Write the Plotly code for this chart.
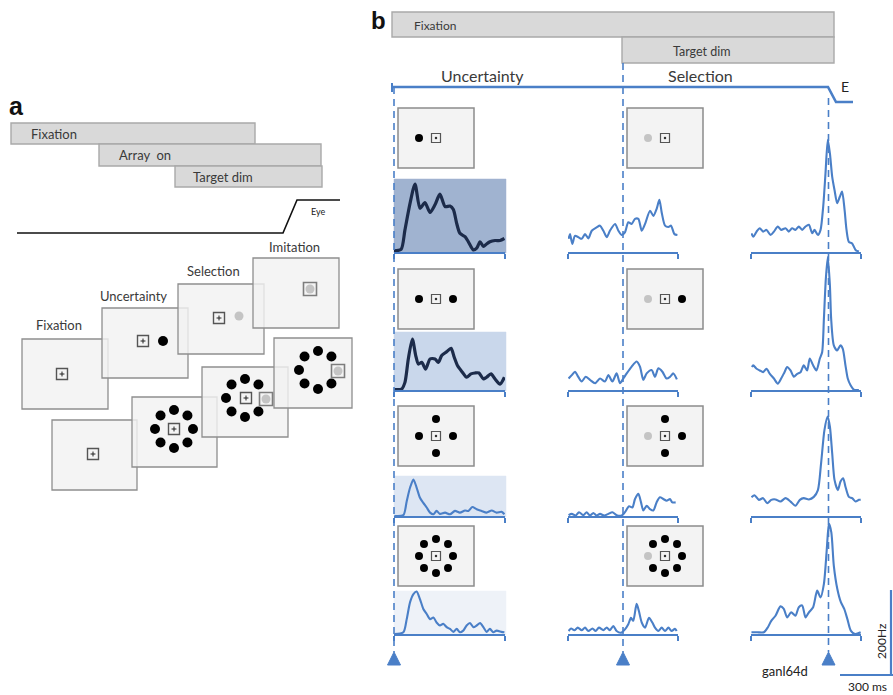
import math
import plotly.graph_objects as go

W, H = 893, 695
BLUE = "#4a7fc7"
NAVY = "#1c2b4a"
TXT = "#3a3a3a"
FONT = "Lato"

# ---------------- data: time (ms) relative to alignment event, firing rate (Hz) ----------------
# Column 1: aligned on array onset (Uncertainty)
unc1_t = [0, 40, 62, 91, 119, 147, 175, 204, 232, 260, 289, 317, 336, 355, 373, 402, 421, 449, 468, 487, 506, 524, 543, 572, 600, 625]
unc1_hz = [3, 6, 52, 115, 160, 103, 116, 93, 111, 136, 107, 108, 100, 67, 44, 36, 24, 5, 9, 24, 13, 19, 24, 27, 27, 32]
unc2_t = [2, 43, 62, 81, 104, 123, 138, 157, 179, 204, 232, 251, 270, 298, 323, 341, 360, 387, 411, 436, 458, 481, 506, 524, 549, 572, 600, 625]
unc2_hz = [1, 2, 18, 73, 120, 81, 61, 65, 49, 73, 73, 65, 81, 90, 98, 77, 57, 42, 30, 38, 40, 40, 26, 30, 38, 26, 14, 30]
unc3_t = [2, 53, 72, 91, 110, 128, 147, 166, 185, 204, 223, 241, 260, 289, 317, 345, 373, 402, 421, 443, 468, 496, 524, 553, 581, 609, 625]
unc3_hz = [0, 2, 35, 67, 86, 67, 43, 31, 20, 8, 4, 12, 5, 8, 4, 12, 8, 13, 12, 21, 16, 12, 8, 13, 8, 10, 4]
unc4_t = [2, 53, 72, 91, 110, 128, 147, 166, 185, 204, 223, 241, 260, 279, 298, 317, 336, 355, 373, 392, 411, 430, 449, 468, 487, 506, 524, 543, 562, 581, 609, 625]
unc4_hz = [0, 4, 35, 75, 94, 100, 82, 59, 47, 35, 39, 27, 20, 24, 16, 12, 5, 12, 4, 8, 20, 26, 16, 20, 26, 16, 5, 12, 4, 8, 5, 4]

# Column 2: aligned on target dim (Selection)
sel1_t = [-308, -300, -287, -272, -253, -234, -215, -196, -177, -149, -130, -111, -92, -74, -45, -26, -8, 11, 30, 49, 68, 87, 106, 125, 153, 172, 190, 206, 219, 238, 257, 272, 291, 308]
sel1_hz = [31, 42, 19, 38, 35, 31, 42, 32, 50, 58, 62, 50, 35, 50, 66, 50, 40, 46, 70, 66, 78, 78, 50, 66, 97, 85, 101, 123, 93, 62, 59, 62, 42, 40]
sel2_t = [-308, -290, -272, -253, -234, -211, -187, -158, -130, -102, -83, -60, -36, -17, 2, 21, 49, 77, 96, 115, 134, 162, 181, 200, 223, 247, 266, 285, 305]
sel2_hz = [27, 35, 43, 31, 20, 31, 24, 16, 27, 20, 35, 20, 39, 16, 27, 39, 55, 67, 55, 24, 39, 47, 31, 51, 43, 27, 31, 39, 25]
sel3_t = [-308, -290, -268, -249, -224, -206, -187, -168, -149, -130, -106, -83, -60, -36, -8, 11, 34, 53, 68, 87, 102, 115, 134, 153, 172, 190, 209, 228, 247, 266, 279, 298]
sel3_hz = [2, 5, 1, 9, 2, 9, 1, 7, 1, 5, 1, 5, 9, 2, 1, 9, 23, 20, 40, 52, 32, 13, 24, 16, 13, 32, 44, 40, 36, 40, 32, 32]
sel4_t = [-308, -294, -275, -256, -234, -215, -196, -173, -155, -136, -111, -92, -74, -55, -36, -11, 11, 30, 45, 58, 77, 90, 106, 125, 147, 166, 181, 200, 219, 238, 257, 275, 294, 304]
sel4_hz = [7, 13, 9, 15, 9, 15, 7, 13, 7, 15, 9, 15, 9, 19, 7, 3, 11, 23, 38, 31, 71, 54, 27, 15, 38, 27, 15, 7, 15, 7, 15, 7, 12, 7]

# Column 3: aligned on saccade onset (Imitation)
sac1_t = [-436, -426, -407, -389, -370, -351, -328, -309, -287, -268, -243, -225, -206, -187, -168, -149, -130, -111, -92, -79, -60, -45, -30, -17, -4, 8, 21, 34, 49, 64, 77, 91, 102, 115, 134, 153, 172]
sac1_hz = [44, 36, 48, 56, 48, 52, 40, 48, 60, 52, 56, 48, 56, 52, 60, 52, 60, 64, 44, 52, 40, 52, 107, 185, 264, 232, 177, 146, 115, 130, 142, 99, 52, 24, 20, 5, 1]
sac2_t = [-434, -426, -407, -389, -370, -351, -332, -309, -287, -268, -249, -234, -215, -196, -177, -158, -140, -121, -106, -87, -68, -49, -36, -26, -15, -4, 8, 15, 30, 49, 68, 81, 96, 109, 125, 143, 172]
sac2_hz = [54, 58, 50, 46, 42, 50, 38, 27, 15, 27, 42, 54, 46, 31, 38, 42, 58, 46, 74, 58, 46, 74, 89, 168, 262, 313, 246, 168, 105, 93, 105, 97, 58, 27, 11, 1, 0]
sac3_t = [-436, -419, -394, -370, -347, -324, -300, -272, -243, -215, -187, -162, -140, -111, -83, -60, -42, -23, -5, 8, 21, 34, 53, 68, 83, 96, 115, 134, 153, 172, 182]
sac3_hz = [44, 49, 38, 42, 30, 38, 39, 34, 42, 34, 24, 38, 42, 39, 45, 61, 124, 202, 234, 210, 147, 85, 61, 81, 89, 69, 45, 42, 34, 38, 38]
sac4_t = [-436, -404, -366, -343, -324, -300, -272, -253, -234, -211, -187, -168, -149, -130, -111, -87, -64, -45, -26, -11, -3, 3, 16, 30, 50, 70, 89, 107, 126, 150, 182]
sac4_hz = [4, 4, 4, 16, 31, 43, 65, 59, 39, 51, 43, 63, 67, 39, 51, 63, 102, 86, 118, 192, 239, 259, 239, 161, 106, 75, 59, 35, 8, 0, 4]

psth = [
    [(unc1_t, unc1_hz), (sel1_t, sel1_hz), (sac1_t, sac1_hz)],
    [(unc2_t, unc2_hz), (sel2_t, sel2_hz), (sac2_t, sac2_hz)],
    [(unc3_t, unc3_hz), (sel3_t, sel3_hz), (sac3_t, sac3_hz)],
    [(unc4_t, unc4_hz), (sel4_t, sel4_hz), (sac4_t, sac4_hz)],
]

# text
a_bar_labels = ["Fixation", "Array  on", "Target dim"]
a_screen_labels = ["Fixation", "Uncertainty", "Selection", "Imitation"]
b_bar_labels = ["Fixation", "Target dim"]
b_epoch_labels = ["Uncertainty", "Selection"]
cell_name = "ganl64d"
scale_labels = ["200Hz", "300 ms"]

# ---------------- layout geometry (pixels) ----------------
PX_PER_MS = 53 / 300.0
PX_PER_HZ = 85 / 200.0
COLS = [(394, 505, 394), (568, 678, 623), (751, 861, 828.5)]  # x0, x1, alignment x
ROW_BASE = [252, 390, 516, 634]
PANE_H = 150
SHADE = [("#a0b3d0", 179), ("#c9d7eb", 332), ("#dde6f3", 476), ("#eef2f8", 591)]


def px(x):
    return x / W


def py(y):
    return 1 - y / H


fig = go.Figure()
layout = dict(
    width=W, height=H, margin=dict(l=0, r=0, t=0, b=0),
    paper_bgcolor="white", plot_bgcolor="rgba(0,0,0,0)", showlegend=False,
    hovermode=False,
    xaxis=dict(range=[0, W], domain=[0, 1], visible=False, fixedrange=True),
    yaxis=dict(range=[H, 0], domain=[0, 1], visible=False, fixedrange=True),
)

shapes = []
annos = []


def rect(x0, y0, x1, y1, fill, line, lw=1.2, layer="below"):
    shapes.append(dict(type="rect", xref="x", yref="y", x0=x0, y0=y0, x1=x1, y1=y1,
                       fillcolor=fill, line=dict(color=line, width=lw), layer=layer))


def seg(x0, y0, x1, y1, color, lw=1.5, dash=None, layer="above"):
    ln = dict(color=color, width=lw)
    if dash:
        ln["dash"] = dash
    shapes.append(dict(type="line", xref="x", yref="y", x0=x0, y0=y0, x1=x1, y1=y1, line=ln, layer=layer))


def text(x, y, s, size=13, color=TXT, xanchor="center", family=FONT, angle=0, bold=False):
    if bold:
        s = "<b>" + s + "</b>"
    annos.append(dict(x=x, y=y, xref="x", yref="y", text=s, showarrow=False, xanchor=xanchor,
                      yanchor="middle", textangle=angle, font=dict(size=size, color=color, family=family)))


# marker collectors
black_x, black_y = [], []
gray_x, gray_y = [], []
fixb_x, fixb_y = [], []   # panel b fixation squares (with dot)
fixa_x, fixa_y = [], []   # panel a fixation squares (with +)
tgt_x, tgt_y = [], []     # gray target squares
bdot_x, bdot_y = [], []   # panel a big black dots
gdot_x, gdot_y = [], []   # panel a gray dots

# ================= panel a =================
text(16, 106, "a", size=25, color="#111", family="Liberation Sans", bold=True)
bar_boxes = [(11, 123, 255, 144), (99, 144, 321, 166), (175, 166, 322, 187)]
for (x0, y0, x1, y1), lab in zip(bar_boxes, a_bar_labels):
    rect(x0, y0, x1, y1, "#d9d9d9", "#a9a9a9", 1.4)
    text(x0 + 18 if lab != "Target dim" else x0 + 16, (y0 + y1) / 2, lab, size=13, xanchor="left")
shapes.append(dict(type="path", xref="x", yref="y", path="M17,233 L283,233 L297,200 L340,200",
                   line=dict(color="#111", width=1.6)))
text(318, 211, "Eye", size=9, color="#222")

SCR_FILL_A = "rgba(241,241,241,0.82)"
SCR_LINE_A = "#8e8e8e"
top_screens = [(22, 339), (102, 308), (178, 284), (253, 258)]
label_pos = [(59, 325), (133, 296), (213, 271), (294, 247)]
for (x0, y0), (lx, ly), lab in zip(top_screens, label_pos, a_screen_labels):
    rect(x0, y0, x0 + 86, y0 + 70, SCR_FILL_A, SCR_LINE_A, 1.3)
    text(lx, ly, lab, size=13)
bot_screens = [(52, 420, 85), (132, 397, 85), (202, 367, 86), (274, 338, 78)]
for x0, y0, w in bot_screens:
    rect(x0, y0, x0 + w, y0 + 70, SCR_FILL_A, SCR_LINE_A, 1.3)

# contents, upper row
fixa_x += [62, 143, 219]; fixa_y += [374, 341, 318]
bdot_x += [163]; bdot_y += [341]
gdot_x += [239]; gdot_y += [316]
tgt_x += [310]; tgt_y += [289]; gdot_x += [310]; gdot_y += [289]
# lower row
fixa_x += [93, 174, 246]; fixa_y += [454, 429, 398]
R_A = 19
for k in range(8):
    ang = math.radians(45 * k)
    bdot_x.append(174 + R_A * math.cos(ang)); bdot_y.append(429 - R_A * math.sin(ang))
for k in range(1, 8):
    ang = math.radians(45 * k)
    bdot_x.append(245 + R_A * math.cos(ang)); bdot_y.append(398 - R_A * math.sin(ang))
    bdot_x.append(318 + R_A * math.cos(ang)); bdot_y.append(370 - R_A * math.sin(ang))
tgt_x += [266, 338]; tgt_y += [399, 371]
gdot_x += [266, 338]; gdot_y += [399, 371]

# ================= panel b =================
text(378, 20, "b", size=24, color="#111", family="Liberation Sans", bold=True)
rect(392, 12, 834, 37, "#d9d9d9", "#a9a9a9", 1.4)
rect(622, 37, 834, 63, "#d9d9d9", "#a9a9a9", 1.4)
text(412, 25, b_bar_labels[0], size=12, xanchor="left")
text(702, 51, b_bar_labels[1], size=12.5)
text(482, 75, b_epoch_labels[0], size=16)
text(700, 75, b_epoch_labels[1], size=16)
shapes.append(dict(type="path", xref="x", yref="y", path="M392,87 L828,87 L836,102 L853,102",
                   line=dict(color=BLUE, width=2.6), layer="above"))
seg(392, 83, 392, 92, BLUE, 2)
text(845, 86, "E", size=14, color="#222")

# shaded boxes for column 1
for (fill, top), base in zip(SHADE, ROW_BASE):
    rect(394, top, 506, base + 1, fill, fill, 0.5)

# screens in panel b
SCR_TOPS = [108, 269, 406, 526]
SCR_X = [398, 627]
D = 17
for r, top in enumerate(SCR_TOPS):
    for c, x0 in enumerate(SCR_X):
        rect(x0, top, x0 + 76, top + 60, "#f3f3f3", "#8c8c8c", 1.5)
        cx, cy = x0 + 38, top + 30
        fixb_x.append(cx); fixb_y.append(cy)
        if r == 0:
            offs = [(-1, 0)]
        elif r == 1:
            offs = [(-1, 0), (1, 0)]
        elif r == 2:
            offs = [(-1, 0), (1, 0), (0, -1), (0, 1)]
        else:
            offs = [(math.cos(math.radians(45 * k)), math.sin(math.radians(45 * k))) for k in range(8)]
        for ox, oy in offs:
            dx, dy = cx + D * ox, cy + D * oy
            if c == 1 and ox < -0.99:
                gray_x.append(dx); gray_y.append(dy)
            else:
                black_x.append(dx); black_y.append(dy)

# alignment dashed lines and triangles
DASH = "7px,5px"
seg(COLS[0][2], 87, COLS[0][2], 652, BLUE, 1.6, DASH)
seg(COLS[1][2], 63, COLS[1][2], 652, BLUE, 1.6, DASH)
seg(COLS[2][2], 98, COLS[2][2], 652, BLUE, 1.6, DASH)
for _, _, al in COLS:
    shapes.append(dict(type="path", xref="x", yref="y",
                       path=f"M{al-6.5},665 L{al+6.5},665 L{al},652 Z",
                       fillcolor=BLUE, line=dict(color=BLUE, width=1), layer="above"))

# scale bars
seg(891, 590, 891, 675, BLUE, 2.2)
seg(840, 675, 893, 675, BLUE, 2.2)
text(881, 641, scale_labels[0], size=12, angle=-90, color="#222")
text(867, 686, scale_labels[1], size=12, color="#222")
text(785, 671, cell_name, size=13, color="#222")

# ---------------- PSTH subplots ----------------
for r in range(4):
    for c in range(3):
        k = 2 + r * 3 + c
        x0, x1, al = COLS[c]
        base = ROW_BASE[r]
        xr = [(x0 - al) / PX_PER_MS, (x1 - al) / PX_PER_MS]
        layout[f"xaxis{k}"] = dict(
            domain=[px(x0), px(x1)], range=xr, anchor=f"y{k}", showline=True, linecolor=BLUE,
            linewidth=1.5, ticks="outside", tickvals=[xr[0] + 0.5, xr[1] - 0.5], ticklen=5,
            tickwidth=1.5, tickcolor=BLUE, showticklabels=False, showgrid=False, zeroline=False,
            fixedrange=True)
        layout[f"yaxis{k}"] = dict(
            domain=[py(base), py(base - PANE_H)], range=[0, PANE_H / PX_PER_HZ], anchor=f"x{k}",
            visible=False, showgrid=False, zeroline=False, fixedrange=True)
        t, hz = psth[r][c]
        dark = (c == 0 and r < 2)
        fig.add_trace(go.Scatter(
            x=t, y=hz, xaxis=f"x{k}", yaxis=f"y{k}", mode="lines",
            line=dict(color=NAVY if dark else BLUE, width=3.2 if dark else 2.1,
                      shape="spline", smoothing=0.7),
            hoverinfo="skip"))

# ---------------- screen markers (pixel axes) ----------------
def mk(xs, ys, **marker):
    fig.add_trace(go.Scatter(x=xs, y=ys, xaxis="x", yaxis="y", mode="markers",
                             marker=marker, hoverinfo="skip"))


mk(black_x, black_y, size=8, color="black")
mk(gray_x, gray_y, size=8, color="#c4c4c4")
mk(fixb_x, fixb_y, size=9, symbol="square-open", color="#555", line=dict(width=1.2, color="#555"))
mk(fixb_x, fixb_y, size=2.5, color="#333")
mk(bdot_x, bdot_y, size=10, color="black")
mk(tgt_x, tgt_y, size=13, symbol="square-open", color="#7d7d7d", line=dict(width=1.6, color="#7d7d7d"))
mk(gdot_x, gdot_y, size=9, color="#c4c4c4")
mk(fixa_x, fixa_y, size=11, symbol="square-open", color="#555", line=dict(width=1.4, color="#555"))
mk(fixa_x, fixa_y, size=3.5, symbol="cross-thin-open", color="#222", line=dict(width=1, color="#222"))

layout["shapes"] = shapes
layout["annotations"] = annos
fig.update_layout(**layout)
fig.write_html("out.html", config={"displayModeBar": False, "staticPlot": True})
